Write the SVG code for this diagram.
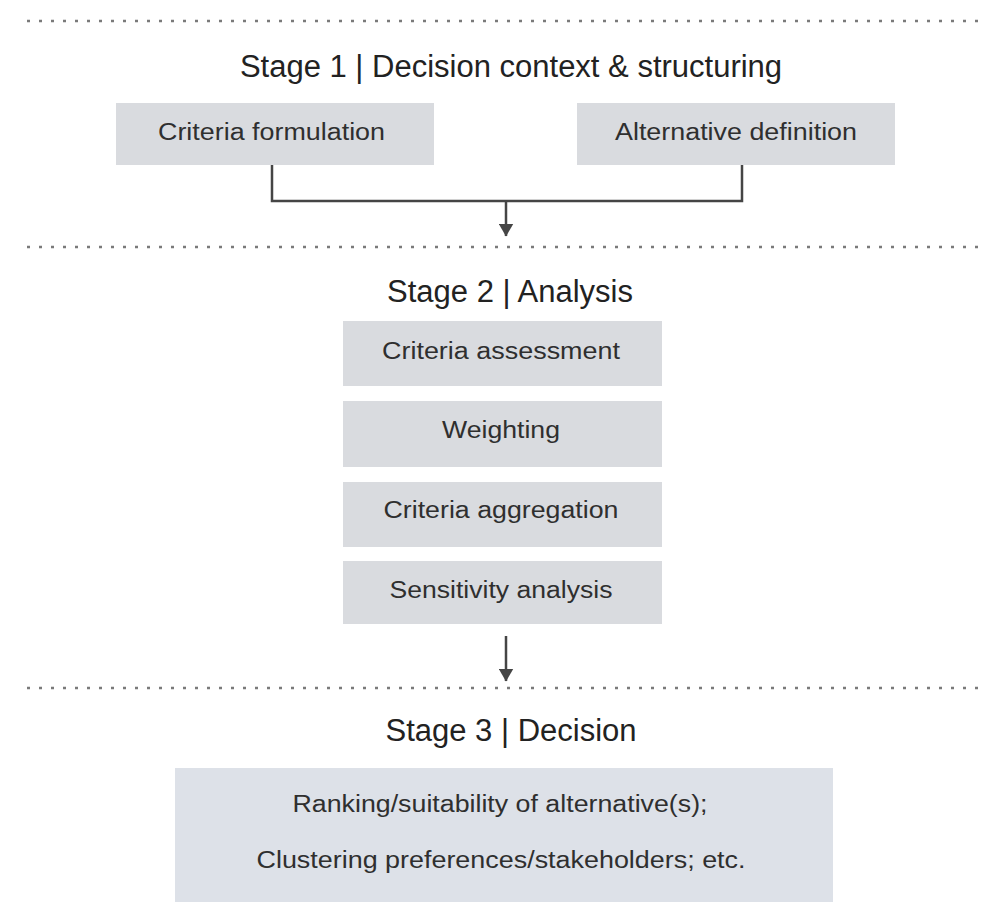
<svg xmlns="http://www.w3.org/2000/svg" width="982" height="902" viewBox="0 0 982 902">
  <style>
    .sep { stroke: #7a7a7a; stroke-width: 2.6; stroke-dasharray: 3 9; fill: none; }
    .title { font-family: "Liberation Sans", Arial, sans-serif; font-size: 31px; fill: #222; text-anchor: middle; }
    .box { fill: #d9dbdf; }
    .box3 { fill: #dde1e8; }
    .lbl { font-family: "Liberation Sans", Arial, sans-serif; font-size: 23px; fill: #2f2f2f; text-anchor: middle; }
    .conn { stroke: #454545; stroke-width: 2.5; fill: none; }
  </style>
  <defs>
    <marker id="arrow" markerWidth="6" markerHeight="6" refX="5" refY="3" orient="auto" markerUnits="strokeWidth">
      <path d="M0,0 L5.2,3 L0,6 Z" fill="#454545"/>
    </marker>
  </defs>
  <rect x="0" y="0" width="982" height="902" fill="#ffffff"/>

  <g id="separators">
    <line class="sep" x1="27" y1="21" x2="980" y2="21"/>
    <line class="sep" x1="27" y1="247" x2="980" y2="247"/>
    <line class="sep" x1="27" y1="688" x2="980" y2="688"/>
  </g>

  <g id="stage1-title">
    <text class="title" x="511" y="77">Stage 1 | Decision context &amp; structuring</text>
  </g>
  <g id="criteria-formulation">
    <rect class="box" x="116" y="103" width="318" height="62"/>
    <text class="lbl" x="271.5" y="140" textLength="227" lengthAdjust="spacingAndGlyphs">Criteria formulation</text>
  </g>
  <g id="alternative-definition">
    <rect class="box" x="577" y="103" width="318" height="62"/>
    <text class="lbl" x="736" y="140" textLength="242" lengthAdjust="spacingAndGlyphs">Alternative definition</text>
  </g>

  <g id="stage2-title">
    <text class="title" x="510" y="302">Stage 2 | Analysis</text>
  </g>
  <g id="criteria-assessment">
    <rect class="box" x="343" y="321" width="319" height="65"/>
    <text class="lbl" x="501" y="359" textLength="238" lengthAdjust="spacingAndGlyphs">Criteria assessment</text>
  </g>
  <g id="weighting">
    <rect class="box" x="343" y="401" width="319" height="66"/>
    <text class="lbl" x="501" y="438" textLength="118" lengthAdjust="spacingAndGlyphs">Weighting</text>
  </g>
  <g id="criteria-aggregation">
    <rect class="box" x="343" y="482" width="319" height="65"/>
    <text class="lbl" x="501" y="518" textLength="235" lengthAdjust="spacingAndGlyphs">Criteria aggregation</text>
  </g>
  <g id="sensitivity-analysis">
    <rect class="box" x="343" y="561" width="319" height="63"/>
    <text class="lbl" x="501" y="598" textLength="223" lengthAdjust="spacingAndGlyphs">Sensitivity analysis</text>
  </g>

  <g id="stage3-title">
    <text class="title" x="511" y="741">Stage 3 | Decision</text>
  </g>
  <g id="decision">
    <rect class="box3" x="175" y="768" width="658" height="134"/>
    <text class="lbl" x="500" y="812" textLength="415" lengthAdjust="spacingAndGlyphs">Ranking/suitability of alternative(s);</text>
    <text class="lbl" x="501" y="868" textLength="489" lengthAdjust="spacingAndGlyphs">Clustering preferences/stakeholders; etc.</text>
  </g>

  <g id="connectors">
    <path class="conn" d="M272,165 V201 H742 V165"/>
    <line class="conn" x1="506" y1="201" x2="506" y2="236" marker-end="url(#arrow)"/>
    <line class="conn" x1="506" y1="636" x2="506" y2="681" marker-end="url(#arrow)"/>
  </g>
</svg>
